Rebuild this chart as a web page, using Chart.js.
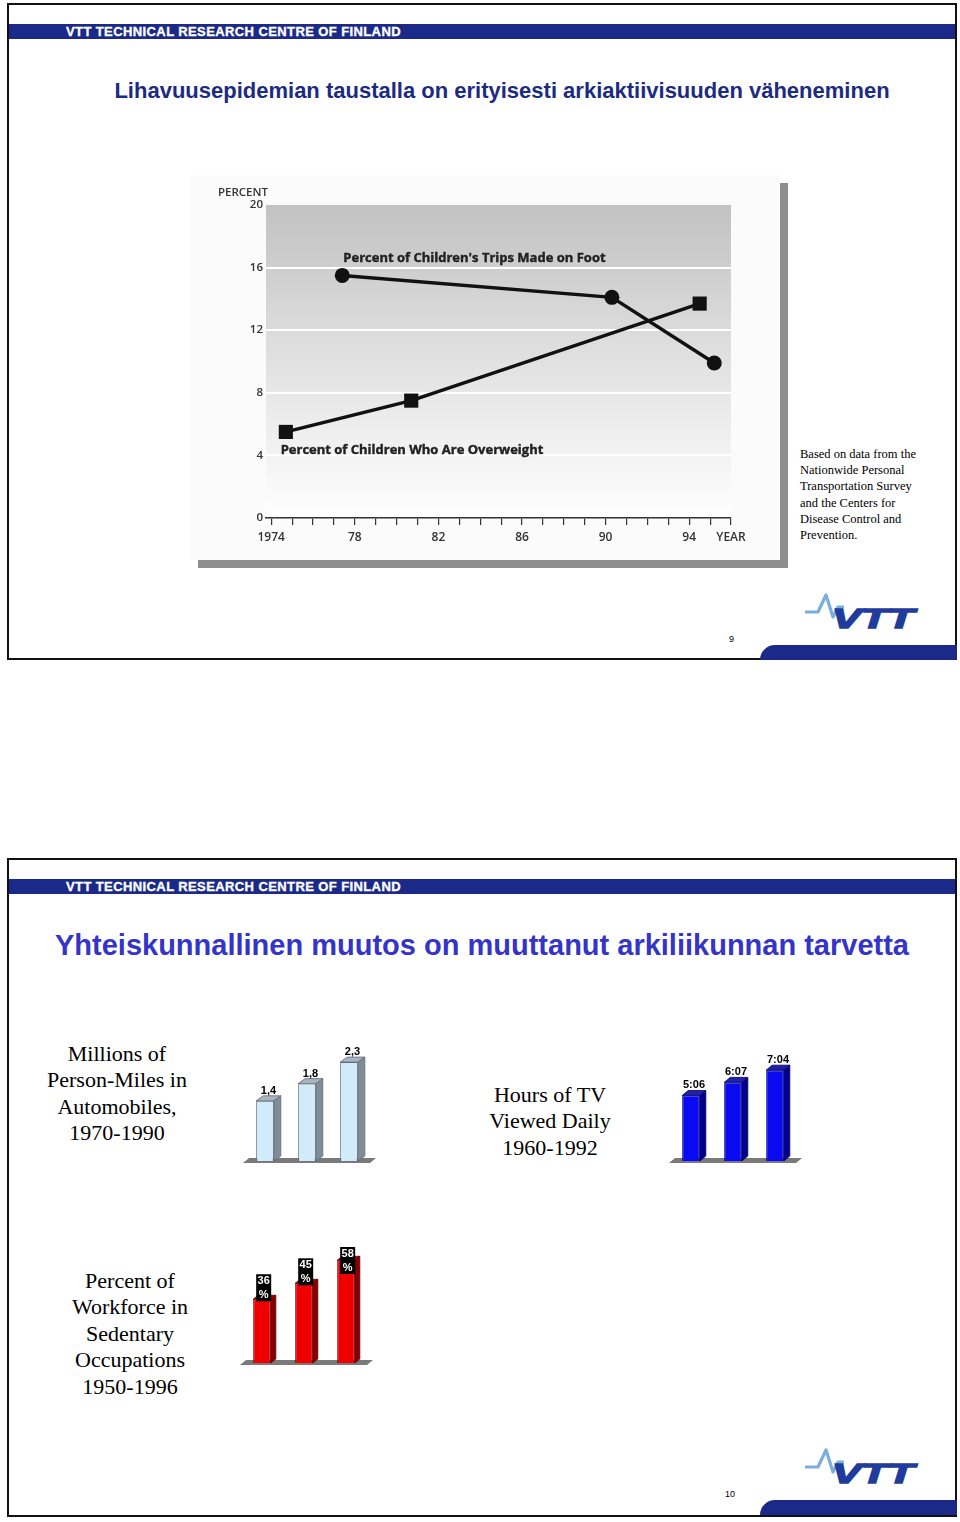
<!DOCTYPE html>
<html>
<head>
<meta charset="utf-8">
<script src="https://cdn.jsdelivr.net/npm/chart.js@4"></script>
<style>
body{margin:0;width:960px;height:1522px;position:relative;background:#fff;font-family:"Liberation Sans",Arial,sans-serif;overflow:hidden}
.slide{position:absolute;left:7px;width:946px;border:2px solid #111;background:#fff}
.band{position:absolute;left:9px;width:946px;height:15px;background:#1b2a88;color:#fff;font-weight:bold;font-size:13px;line-height:15px}
.band span{position:absolute;left:57px;letter-spacing:0.4px;-webkit-text-stroke:0.35px #fff}
.title{position:absolute;font-weight:bold;text-align:center;white-space:nowrap}
.note{position:absolute;font-family:"Liberation Serif","Times New Roman",serif}
.foot{position:absolute;left:760px;width:197px;height:15px;background:#1b2a88;border-top-left-radius:16px}
.pg{position:absolute;font-size:9px;color:#000}
.logo{position:absolute;left:800px;width:120px;height:46px}
.box{position:absolute;left:190px;top:175px;width:590px;height:385px;background:#fbfbfb;box-shadow:8px 8px 0 #8e8e8e}
canvas{position:absolute}
.cap{position:absolute;font-family:"Liberation Serif","Times New Roman",serif;font-size:22px;line-height:26.4px;text-align:center;width:220px}
</style>
</head>
<body>
<div class="slide" style="top:3px;height:653px"></div>
<div class="band" style="top:24px"><span>VTT TECHNICAL RESEARCH CENTRE OF FINLAND</span></div>
<div class="title" style="left:44px;width:916px;top:78px;font-size:22px;line-height:26px;color:#1c2b82">Lihavuusepidemian taustalla on erityisesti arkiaktiivisuuden väheneminen</div>
<div class="box"></div>
<canvas id="lineChart" width="590" height="385" style="left:190px;top:175px"></canvas>
<div class="note" style="left:800px;top:446px;font-size:12.5px;line-height:16.2px">Based on data from the<br>Nationwide Personal<br>Transportation Survey<br>and the Centers for<br>Disease Control and<br>Prevention.</div>
<div class="pg" style="left:729px;top:634px">9</div>
<svg class="logo" style="top:590px" viewBox="0 0 120 46">
  <polyline points="5,22 18,22 26,5 33,27 38,17 44,17" fill="none" stroke="#78aee0" stroke-width="3.2" stroke-linejoin="round"/>
  <text x="32" y="38" font-family="Liberation Sans" font-weight="bold" font-style="italic" font-size="27" fill="#1f3c9c" stroke="#1f3c9c" stroke-width="1.5" textLength="82" lengthAdjust="spacingAndGlyphs">VTT</text>
</svg>
<div class="foot" style="top:645px"></div>

<div class="slide" style="top:858px;height:655px"></div>
<div class="band" style="top:879px"><span>VTT TECHNICAL RESEARCH CENTRE OF FINLAND</span></div>
<div class="title" style="left:9px;width:946px;top:929px;font-size:29px;line-height:33px;color:#3434c8">Yhteiskunnallinen muutos on muuttanut arkiliikunnan tarvetta</div>

<div class="cap" style="left:7px;top:1041px">Millions of<br>Person-Miles in<br>Automobiles,<br>1970-1990</div>
<canvas id="milesChart" width="150" height="140" style="left:236px;top:1030px"></canvas>
<div class="cap" style="left:440px;top:1082px">Hours of TV<br>Viewed Daily<br>1960-1992</div>
<canvas id="tvChart" width="150" height="140" style="left:662px;top:1030px"></canvas>
<div class="cap" style="left:20px;top:1268px">Percent of<br>Workforce in<br>Sedentary<br>Occupations<br>1950-1996</div>
<canvas id="workChart" width="150" height="135" style="left:233px;top:1237px"></canvas>

<div class="pg" style="left:725px;top:1489px">10</div>
<svg class="logo" style="top:1445px" viewBox="0 0 120 46">
  <polyline points="5,22 18,22 26,5 33,27 38,17 44,17" fill="none" stroke="#78aee0" stroke-width="3.2" stroke-linejoin="round"/>
  <text x="32" y="38" font-family="Liberation Sans" font-weight="bold" font-style="italic" font-size="27" fill="#1f3c9c" stroke="#1f3c9c" stroke-width="1.5" textLength="82" lengthAdjust="spacingAndGlyphs">VTT</text>
</svg>
<div class="foot" style="top:1500px"></div>

<script>
// line chart data (slide 9)
const walkYears = [1977.4, 1990.3, 1995.2];
const walkPct = [15.5, 14.1, 9.9];
const overYears = [1974.7, 1980.7, 1994.5];
const overPct = [5.5, 7.5, 13.7];
const yearTicks = [1974, 1975, 1976, 1977, 1978, 1979, 1980, 1981, 1982, 1983, 1984, 1985,
	1986, 1987, 1988, 1989, 1990, 1991, 1992, 1993, 1994, 1995, 1996];
const labelYears = [1974, 1978, 1982, 1986, 1990, 1994, 1996];
const labelText = ['1974', '78', '82', '86', '90', '94', 'YEAR'];
const percentTicks = [0, 4, 8, 12, 16, 20];

// bar charts (slide 10)
const milesCats = ['1970', '1980', '1990'];
const milesValues = [1.4, 1.8, 2.3];
const milesLabels = ['1,4', '1,8', '2,3'];
const tvCats = ['1960', '1976', '1992'];
const tvHours = [5.10, 6.12, 7.07];
const tvLabels = ['5:06', '6:07', '7:04'];
const workCats = ['1950', '1970', '1996'];
const workPct = [36, 45, 58];
const workLabels = ['36', '45', '58'];

// series captions placed on the line chart
const captions = [
	{text: "Percent of Children's Trips Made on Foot", x: 1977.45, y: 16.6},
	{text: 'Percent of Children Who Are Overweight', x: 1974.45, y: 4.3}
];

const axisFont = '"Open Sans"';

const lineDecor = {
	id: 'lineDecor',
	beforeDraw(chart) {
		const a = chart.chartArea, ctx = chart.ctx;
		const g = ctx.createLinearGradient(0, a.top, 0, a.bottom);
		g.addColorStop(0, '#c2c2c2');
		g.addColorStop(0.55, '#e4e4e4');
		g.addColorStop(1, '#ffffff');
		ctx.save();
		ctx.fillStyle = g;
		ctx.fillRect(a.left, a.top, a.right - a.left, a.bottom - a.top);
		ctx.restore();
	},
	afterDraw(chart) {
		const ctx = chart.ctx, a = chart.chartArea;
		const xs = chart.scales.x, ys = chart.scales.y;
		ctx.save();
		ctx.fillStyle = '#222';
		ctx.strokeStyle = '#222';
		ctx.lineWidth = 0.4;
		ctx.font = 'bold 13px ' + axisFont;
		ctx.textBaseline = 'middle';
		captions.forEach(c => {
			const px = xs.getPixelForValue(c.x), py = ys.getPixelForValue(c.y);
			ctx.fillText(c.text, px, py);
			ctx.strokeText(c.text, px, py);
		});
		ctx.font = '600 11.5px ' + axisFont;
		ctx.fillStyle = '#333';
		ctx.textAlign = 'right';
		ctx.fillText('PERCENT', a.left + 2, a.top - 12);
		ctx.restore();
	}
};

new Chart(document.getElementById('lineChart').getContext('2d'), {
	type: 'line',
	data: {
		datasets: [{
			data: walkYears.map((x, i) => ({x: x, y: walkPct[i]})),
			borderColor: '#111',
			borderWidth: 3.5,
			pointStyle: 'circle',
			pointRadius: 7.5,
			pointBackgroundColor: '#111',
			pointBorderWidth: 0,
			tension: 0
		}, {
			data: overYears.map((x, i) => ({x: x, y: overPct[i]})),
			borderColor: '#111',
			borderWidth: 3.5,
			pointStyle: 'rect',
			pointRadius: 10,
			pointBackgroundColor: '#111',
			pointBorderWidth: 0,
			tension: 0
		}]
	},
	options: {
		responsive: false,
		animation: false,
		layout: {padding: {top: 30, right: 49, left: 0, bottom: 0}},
		plugins: {legend: {display: false}, tooltip: {enabled: false}},
		scales: {
			x: {
				type: 'linear',
				min: 1973.75,
				max: 1996,
				afterFit(s) { s.height = 42; },
				afterBuildTicks(s) { s.ticks = yearTicks.map(v => ({value: v})); },
				ticks: {
					autoSkip: false,
					maxRotation: 0,
					padding: 5,
					color: '#333',
					font: {family: 'Open Sans', size: 12, weight: '600'},
					callback: v => {
						const i = labelYears.indexOf(v);
						return i < 0 ? '' : labelText[i];
					}
				},
				grid: {drawOnChartArea: false, drawTicks: true, tickLength: 7, color: '#333', lineWidth: 1.2},
				border: {display: true, color: '#333', width: 1.5}
			},
			y: {
				min: 0,
				max: 20,
				afterFit(s) { s.width = 76; },
				afterBuildTicks(s) { s.ticks = percentTicks.map(v => ({value: v})); },
				ticks: {padding: 3, color: '#333', font: {family: 'Open Sans', size: 11.5, weight: '600'}},
				grid: {
					color: c => (c.tick && c.tick.value > 0 && c.tick.value < 20) ? '#ffffff' : 'rgba(0,0,0,0)',
					lineWidth: 2,
					drawTicks: false
				},
				border: {display: false}
			}
		}
	},
	plugins: [lineDecor]
});

// pseudo 3D bars: floor, side and top faces, value labels
const prism = {
	id: 'prism',
	beforeDatasetsDraw(chart, args, o) {
		const a = chart.chartArea, ctx = chart.ctx;
		const base = chart.scales.y.getPixelForValue(0);
		ctx.save();
		ctx.fillStyle = '#7a7a7a';
		ctx.beginPath();
		ctx.moveTo(a.left - 1, base + 2);
		ctx.lineTo(a.right, base + 2);
		ctx.lineTo(a.right + 6, base - 3);
		ctx.lineTo(a.left + 5, base - 3);
		ctx.closePath();
		ctx.fill();
		ctx.restore();
	},
	afterDatasetsDraw(chart, args, o) {
		const ctx = chart.ctx, a = chart.chartArea;
		const d = o.depth, r = o.rise;
		ctx.save();
		chart.getDatasetMeta(0).data.forEach((bar, i) => {
			const p = bar.getProps(['x', 'y', 'base', 'width'], true);
			const L = p.x - p.width / 2, R = p.x + p.width / 2;
			ctx.lineWidth = 0.8;
			ctx.strokeStyle = o.edge;
			ctx.fillStyle = o.side;
			ctx.beginPath();
			ctx.moveTo(R, p.y);
			ctx.lineTo(R + d, p.y - r);
			ctx.lineTo(R + d, p.base - r);
			ctx.lineTo(R, p.base);
			ctx.closePath();
			ctx.fill();
			ctx.stroke();
			ctx.fillStyle = o.top;
			ctx.beginPath();
			ctx.moveTo(L, p.y);
			ctx.lineTo(L + d, p.y - r);
			ctx.lineTo(R + d, p.y - r);
			ctx.lineTo(R, p.y);
			ctx.closePath();
			ctx.fill();
			ctx.stroke();
			ctx.font = 'bold 11px "Liberation Sans"';
			ctx.textAlign = 'center';
			if (o.boxed) {
				const top = Math.max(a.top, p.y - 25);
				ctx.fillStyle = '#000';
				ctx.fillRect(L + 3, top, 15, 27);
				ctx.fillStyle = '#fff';
				ctx.textBaseline = 'middle';
				ctx.fillText(o.labels[i], L + 10.5, top + 7);
				ctx.fillText('%', L + 10.5, top + 21);
			} else {
				ctx.fillStyle = '#000';
				ctx.textBaseline = 'alphabetic';
				ctx.fillText(o.labels[i], p.x + d / 2, p.y - r - 2);
			}
		});
		ctx.restore();
	}
};

function barChart(id, cats, values, labels, max, face, side, top, edge, depth, rise, boxed, pad) {
	new Chart(document.getElementById(id).getContext('2d'), {
		type: 'bar',
		data: {
			labels: cats,
			datasets: [{
				data: values,
				backgroundColor: face,
				borderColor: edge,
				borderWidth: 1,
				barPercentage: 0.42,
				categoryPercentage: 1
			}]
		},
		options: {
			responsive: false,
			animation: false,
			layout: {padding: pad},
			plugins: {
				legend: {display: false},
				tooltip: {enabled: false},
				prism: {side: side, top: top, edge: edge, depth: depth, rise: rise, labels: labels, boxed: boxed}
			},
			scales: {
				x: {display: false},
				y: {display: false, min: 0, max: max}
			}
		},
		plugins: [prism]
	});
}

barChart('milesChart', milesCats, milesValues, milesLabels, 2.814,
	'#d2ebfb', '#7f8d99', '#a8b5c0', '#5f6b75', 7, 5, false,
	{left: 8, right: 16, top: 10, bottom: 9});
barChart('tvChart', tvCats, tvHours, tvLabels, 9.42,
	'#0a0af2', '#00008c', '#2020a8', '#000066', 6, 5, false,
	{left: 8, right: 16, top: 10, bottom: 9});
barChart('workChart', workCats, workPct, workLabels, 65.5,
	'#ee0000', '#8a0000', '#a80000', '#5a0000', 5, 4, true,
	{left: 8, right: 16, top: 10, bottom: 9});
</script>
</body>
</html>
